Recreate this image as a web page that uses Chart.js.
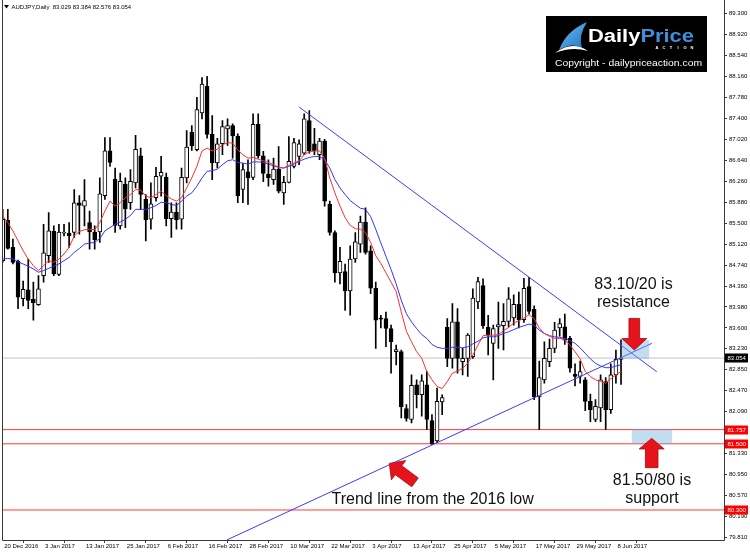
<!DOCTYPE html>
<html>
<head>
<meta charset="utf-8">
<script src="https://cdn.jsdelivr.net/npm/chart.js@4.4.0/dist/chart.umd.min.js"></script>
<style>
html,body{margin:0;padding:0;background:#fff;}
#c{display:block;}
</style>
</head>
<body>
<canvas id="c" width="750" height="552"></canvas>
<script>
// ---------- DATA ----------
const tickLabels = ['20 Dec 2016','3 Jan 2017','13 Jan 2017','25 Jan 2017','6 Feb 2017','16 Feb 2017','28 Feb 2017','10 Mar 2017','22 Mar 2017','3 Apr 2017','13 Apr 2017','25 Apr 2017','5 May 2017','17 May 2017','29 May 2017','8 Jun 2017'];
const barsPerLabel = 8;
const priceTicks = [79.810,80.190,80.570,80.950,81.330,81.710,82.090,82.470,82.850,83.230,83.600,83.980,84.360,84.740,85.120,85.500,85.880,86.260,86.640,87.020,87.400,87.780,88.160,88.540,88.920,89.300];

const opens = [84.82,85.55,85.06,84.81,84.13,84.29,84.12,84.02,84.55,84.91,85.35,84.57,85.32,85.32,85.33,85.87,85.81,85.51,85.34,85.34,
86.00,86.81,86.30,85.45,86.21,85.87,86.23,86.72,85.93,85.57,85.96,86.35,86.33,85.58,85.70,85.57,86.32,87.15,86.83,87.50,
87.98,87.11,86.59,86.94,87.21,87.27,87.08,86.11,86.43,86.33,87.29,86.72,86.39,86.29,86.48,86.05,86.24,86.53,86.71,86.77,
87.36,86.94,86.74,86.99,85.84,85.33,84.60,84.62,84.27,84.85,85.12,85.52,85.00,84.32,83.78,83.77,83.59,83.17,83.17,82.14,
81.94,82.57,82.39,82.57,81.92,81.55,82.26,83.61,83.05,83.71,82.99,83.05,83.08,84.07,84.37,83.61,83.32,83.62,83.64,83.72,
83.78,84.03,83.75,84.35,83.94,82.35,82.66,82.99,83.23,83.60,83.62,83.41,82.76,82.72,82.66,82.27,81.94,82.15,82.63,82.12,
82.75,83.029];
const highs = [85.75,85.75,85.21,84.83,84.45,84.85,84.43,84.55,85.48,85.69,85.45,85.48,85.48,85.51,86.11,86.00,86.29,85.72,85.45,86.32,
87.05,87.05,86.50,86.41,86.32,86.47,87.09,86.86,86.02,86.23,86.51,86.71,86.41,85.87,85.87,86.50,87.18,87.27,87.78,88.14,
88.16,87.45,87.04,87.36,87.39,87.30,87.12,86.58,86.65,87.48,87.48,86.80,86.65,86.68,86.89,86.35,87.07,87.04,87.01,87.48,
87.54,87.22,87.04,87.02,85.90,85.36,85.06,84.76,85.09,85.33,85.63,85.78,85.09,84.43,83.83,83.89,83.65,83.29,83.20,82.21,
82.75,82.66,82.75,82.81,82.03,82.51,82.39,83.77,84.04,83.95,83.23,83.50,84.31,84.52,84.49,83.83,83.65,84.07,84.04,84.33,
84.20,84.25,84.50,84.52,84.00,83.00,83.35,83.40,83.70,83.77,83.85,83.45,82.95,83.00,82.70,82.40,82.30,82.75,82.70,82.95,
83.20,83.384];
const lows = [84.79,85.03,84.76,83.95,84.00,83.95,83.74,84.01,84.43,84.79,84.55,84.55,85.27,85.06,85.24,85.30,85.45,85.03,85.03,85.15,
85.93,86.53,85.33,85.39,85.42,85.75,86.14,85.75,85.18,85.39,85.90,85.99,85.45,85.24,85.39,85.39,86.23,86.82,86.81,87.39,
87.04,86.29,86.50,86.74,86.91,86.68,85.87,85.87,85.84,86.29,86.68,86.25,86.17,86.20,86.05,85.84,86.23,86.50,86.56,86.74,
86.77,86.74,86.65,85.81,85.28,84.43,84.40,83.92,83.83,84.79,84.97,84.94,84.22,83.23,83.60,83.26,82.78,82.93,81.97,81.91,
81.88,82.15,82.00,81.76,81.49,81.52,82.03,82.90,82.87,82.78,82.75,82.72,83.05,83.95,83.59,83.11,82.66,83.23,83.20,83.62,
83.65,83.60,83.70,83.85,82.30,81.757,82.60,82.90,83.15,83.45,83.30,82.80,82.55,82.60,82.10,81.90,81.90,81.90,81.76,82.05,
82.60,82.576];
const closes = [85.57,85.04,84.79,84.16,84.30,84.10,84.06,84.31,84.96,85.36,84.58,85.34,85.34,85.27,85.87,85.82,85.91,85.34,85.20,86.03,
86.81,86.60,85.46,86.26,85.76,86.26,86.84,86.02,85.56,85.85,86.35,86.42,85.58,85.70,85.56,86.33,86.88,86.90,87.56,88.02,
87.11,86.59,86.94,87.25,87.27,87.08,86.00,86.47,86.32,87.29,86.72,86.40,86.32,86.48,86.08,86.24,86.62,86.96,86.94,87.39,
86.81,86.81,86.99,85.90,85.33,84.60,84.81,84.27,84.85,85.16,85.52,84.97,84.32,83.74,83.76,83.59,83.35,83.21,82.17,81.96,
82.56,82.39,82.64,81.94,81.50,82.27,82.34,83.05,83.71,83.05,83.05,83.47,84.14,84.44,83.64,83.47,83.59,83.66,83.72,84.13,
84.03,83.75,84.32,83.90,82.35,82.70,83.05,83.23,83.56,83.68,83.38,82.87,82.72,82.81,82.27,82.12,82.18,82.66,82.12,82.75,
83.03,83.054];

const maRed = [85.63,85.51,85.36,85.18,85.00,84.85,84.73,84.64,84.73,84.82,84.79,84.85,84.94,85.06,85.27,85.35,85.38,85.39,85.38,85.51,
85.72,85.90,85.81,85.87,85.96,86.02,86.11,86.10,85.99,85.96,86.02,86.08,86.00,85.94,85.90,85.96,86.14,86.32,86.53,86.81,
86.86,86.81,86.84,86.92,86.96,86.95,86.83,86.74,86.68,86.69,86.66,86.63,86.60,86.56,86.51,86.50,86.55,86.59,86.63,86.74,
86.79,86.81,86.81,86.68,86.32,86.05,85.81,85.60,85.46,85.40,85.39,85.33,85.15,84.91,84.77,84.60,84.43,84.26,83.89,83.54,
83.35,83.17,83.05,82.81,82.66,82.54,82.50,82.63,82.78,82.82,82.87,82.96,83.11,83.29,83.46,83.47,83.47,83.48,83.55,83.61,
83.69,83.73,83.78,83.84,83.77,83.60,83.50,83.45,83.41,83.41,83.39,83.29,83.17,83.04,82.81,82.72,82.66,82.63,82.60,82.68,
82.75,82.81];
const maBlue = [84.85,84.86,84.85,84.80,84.76,84.72,84.67,84.61,84.64,84.68,84.72,84.76,84.82,84.88,84.97,85.04,85.12,85.14,85.15,85.22,
85.36,85.42,85.48,85.52,85.57,85.64,85.75,85.75,85.75,85.78,85.82,85.88,85.87,85.84,85.82,85.90,85.99,86.05,86.17,86.32,
86.44,86.45,86.48,86.56,86.63,86.65,86.60,86.59,86.57,86.61,86.61,86.60,86.57,86.54,86.51,86.50,86.53,86.57,86.62,86.66,
86.69,86.71,86.71,86.65,86.50,86.29,86.14,86.02,85.91,85.84,85.77,85.75,85.62,85.39,85.14,84.90,84.66,84.40,84.10,83.86,
83.71,83.59,83.48,83.41,83.30,83.25,83.23,83.23,83.25,83.25,83.24,83.26,83.31,83.36,83.42,83.44,83.44,83.46,83.50,83.53,
83.57,83.61,83.64,83.67,83.65,83.56,83.50,83.46,83.44,83.43,83.41,83.37,83.32,83.24,83.14,83.04,82.96,82.91,82.88,82.88,
82.91,82.93];

const redLevels = [81.757, 81.500, 80.300];
const lastPrice = 83.054;
const trendHighX = [58.0, 128.0];
const trendHighY = [87.605, 82.806];
const trendLowX = [43.84, 127.0];
const trendLowY = [79.756, 83.32];
const resistZone = {x:[121.1,126.5], y:[83.04,83.38]};
const supportZone = {x:[123.1,131.0], y:[81.50,81.757]};

// ---------- SCALE RANGE ----------
const X_MIN = -0.137, X_MAX = 141.15;
const Y_MIN = 79.756, Y_MAX = 89.444;

const idx = opens.map((_, i) => i);
const wickData = idx.map(i => ({x: i, y: [lows[i], highs[i]]}));
const bodyData = idx.map(i => ({x: i, y: [Math.min(opens[i], closes[i]), Math.max(opens[i], closes[i])]}));
const bodyFill = idx.map(i => closes[i] >= opens[i] ? '#ffffff' : '#000000');

const hline = (v) => [{x: X_MIN, y: v}, {x: X_MAX, y: v}];
const lineDs = (data, color, order, extra) => Object.assign({
  type: 'line', data, borderColor: color, borderWidth: 1, pointRadius: 0,
  tension: 0, fill: false, order
}, extra || {});

const FONT = 'Liberation Sans';

function arrow(ctx, tx, ty, dx, dy, len, headLen, headW, shaftW) {
  const m = Math.hypot(dx, dy); const ux = dx / m, uy = dy / m;
  const nx = -uy, ny = ux;
  const bx = tx - ux * headLen, by = ty - uy * headLen;
  const ex = tx - ux * len, ey = ty - uy * len;
  ctx.beginPath();
  ctx.moveTo(tx, ty);
  ctx.lineTo(bx + nx * headW / 2, by + ny * headW / 2);
  ctx.lineTo(bx + nx * shaftW / 2, by + ny * shaftW / 2);
  ctx.lineTo(ex + nx * shaftW / 2, ey + ny * shaftW / 2);
  ctx.lineTo(ex - nx * shaftW / 2, ey - ny * shaftW / 2);
  ctx.lineTo(bx - nx * shaftW / 2, by - ny * shaftW / 2);
  ctx.lineTo(bx - nx * headW / 2, by - ny * headW / 2);
  ctx.closePath();
  ctx.fillStyle = '#e5141c';
  ctx.fill();
  ctx.strokeStyle = '#a30d12';
  ctx.lineWidth = 0.8;
  ctx.stroke();
}

const decor = {
  id: 'decor',
  afterDraw(chart) {
    const ctx = chart.ctx, xs = chart.scales.x, ys = chart.scales.y, a = chart.chartArea;
    const px = v => xs.getPixelForValue(v), py = v => ys.getPixelForValue(v);
    ctx.save();
    // zones
    ctx.fillStyle = 'rgba(120,178,222,0.45)';
    ctx.fillRect(px(resistZone.x[0]), py(resistZone.y[1]), px(resistZone.x[1]) - px(resistZone.x[0]), py(resistZone.y[0]) - py(resistZone.y[1]));
    ctx.fillRect(px(supportZone.x[0]), py(supportZone.y[1]), px(supportZone.x[1]) - px(supportZone.x[0]), py(supportZone.y[0]) - py(supportZone.y[1]));

    // arrows
    arrow(ctx, px(123.6), py(83.20), 0, 1, 31.6, 11.5, 25, 10.7);
    arrow(ctx, px(127.0), py(81.60), 0, -1, 29.4, 10.7, 25, 12.6);
    arrow(ctx, px(75.65), py(81.145), -25.7, -19, 32, 11.5, 24, 11);

    // annotation texts
    ctx.fillStyle = '#111';
    ctx.font = '16px ' + FONT;
    ctx.textBaseline = 'middle';
    ctx.textAlign = 'center';
    ctx.fillText('83.10/20 is', 633.5, 285);
    ctx.fillText('resistance', 633.5, 303);
    ctx.fillText('81.50/80 is', 652, 481);
    ctx.fillText('support', 652, 499);
    ctx.textAlign = 'left';
    ctx.fillText('Trend line from the 2016 low', 331.5, 500);

    // frame
    ctx.strokeStyle = '#3a3a3a';
    ctx.lineWidth = 1;
    ctx.beginPath();
    ctx.moveTo(Math.round(a.left) + 0.5, 0);
    ctx.lineTo(Math.round(a.left) + 0.5, Math.round(a.bottom) + 0.5);
    ctx.lineTo(Math.round(a.right) + 0.5, Math.round(a.bottom) + 0.5);
    ctx.lineTo(Math.round(a.right) + 0.5, 0);
    ctx.stroke();

    // price boxes on the axis
    const box = (v, bg) => {
      const y = py(v);
      ctx.fillStyle = bg;
      ctx.fillRect(a.right + 1, Math.round(y) - 4.5, 23, 9);
      ctx.fillStyle = '#ffffff';
      ctx.font = '6px ' + FONT;
      ctx.textAlign = 'left';
      ctx.textBaseline = 'middle';
      ctx.fillText(v.toFixed(3), a.right + 3.5, Math.round(y));
    };
    box(lastPrice, '#000000');
    redLevels.forEach(v => box(v, '#ff0000'));

    // title
    ctx.fillStyle = '#000';
    ctx.beginPath();
    ctx.moveTo(4, 5); ctx.lineTo(9, 5); ctx.lineTo(6.5, 8.5); ctx.closePath(); ctx.fill();
    ctx.font = '6px ' + FONT;
    ctx.textAlign = 'left';
    ctx.textBaseline = 'middle';
    ctx.fillText('AUDJPY,Daily  83.029 83.384 82.576 83.054', 11.5, 7);

    // logo
    ctx.fillStyle = '#000';
    ctx.fillRect(546, 16, 161, 56);
    // icon
    const g = ctx.createLinearGradient(560, 22, 586, 50);
    g.addColorStop(0, '#6cc3f5'); g.addColorStop(1, '#1e6fc4');
    ctx.fillStyle = g;
    ctx.beginPath();
    ctx.moveTo(559, 50);
    ctx.quadraticCurveTo(566, 31, 587, 22);
    ctx.quadraticCurveTo(578, 36, 582, 48);
    ctx.quadraticCurveTo(572, 42, 559, 50);
    ctx.closePath(); ctx.fill();
    ctx.fillStyle = '#ffffff';
    ctx.beginPath();
    ctx.moveTo(555, 53);
    ctx.quadraticCurveTo(572, 40, 588, 51);
    ctx.quadraticCurveTo(572, 46, 555, 53);
    ctx.closePath(); ctx.fill();
    // DailyPrice
    ctx.textBaseline = 'alphabetic';
    ctx.font = 'bold 18px ' + FONT;
    const w1 = ctx.measureText('Daily').width, w2 = ctx.measureText('Price').width;
    const sx = 106 / (w1 + w2);
    ctx.save();
    ctx.translate(588, 42);
    ctx.scale(sx, 1);
    ctx.fillStyle = '#ffffff';
    ctx.fillText('Daily', 0, 0);
    ctx.fillStyle = '#3d8fdc';
    ctx.fillText('Price', w1, 0);
    ctx.restore();
    ctx.fillStyle = '#ffffff';
    ctx.font = 'bold 4px ' + FONT;
    ctx.textAlign = 'center';
    ['A','C','T','I','O','N'].forEach((ch, i) => ctx.fillText(ch, 657 + i * 7, 48.5));
    ctx.font = '9.5px ' + FONT;
    const cw = ctx.measureText('Copyright - dailypriceaction.com').width;
    ctx.save();
    ctx.translate(555, 66);
    ctx.scale(147 / cw, 1);
    ctx.textAlign = 'left';
    ctx.fillText('Copyright - dailypriceaction.com', 0, 0);
    ctx.restore();
    ctx.restore();
  }
};

new Chart(document.getElementById('c'), {
  type: 'bar',
  data: {
    datasets: [
      lineDs(hline(lastPrice), '#c4c4c4', 6),
      lineDs(hline(redLevels[0]), '#ff3a3a', 6),
      lineDs(hline(redLevels[1]), '#ff3a3a', 6),
      lineDs(hline(redLevels[2]), '#ff3a3a', 6),
      {type: 'bar', data: wickData, backgroundColor: '#000', borderWidth: 0, barThickness: 1, grouped: false, order: 5},
      {type: 'bar', data: bodyData, backgroundColor: bodyFill, borderColor: '#000', borderWidth: 1, borderSkipped: false, barThickness: 4, grouped: false, minBarLength: 1, order: 4},
      lineDs(idx.map(i => ({x: i, y: maBlue[i]})), '#3434ff', 3),
      lineDs(idx.map(i => ({x: i, y: maRed[i]})), '#ff2e2e', 2),
      lineDs(trendHighX.map((x, i) => ({x, y: trendHighY[i]})), '#3c3cff', 1),
      lineDs(trendLowX.map((x, i) => ({x, y: trendLowY[i]})), '#3c3cff', 1)
    ]
  },
  options: {
    responsive: false,
    devicePixelRatio: 1,
    animation: false,
    events: [],
    layout: {padding: {left: 2, top: 1, right: 0, bottom: 0}},
    plugins: {legend: {display: false}, tooltip: {enabled: false}},
    scales: {
      x: {
        type: 'linear', position: 'bottom', min: X_MIN, max: X_MAX, offset: false,
        grid: {drawOnChartArea: false, drawTicks: true, tickLength: 3, color: '#3a3a3a'},
        border: {display: false},
        afterBuildTicks: s => { s.ticks = tickLabels.map((_, i) => ({value: i * barsPerLabel})); },
        afterFit: s => { s.height = 12; },
        ticks: {
          autoSkip: false, maxRotation: 0, minRotation: 0, align: 'start', labelOffset: 1.5, padding: 0,
          color: '#000', font: {family: FONT, size: 6},
          callback: v => tickLabels[Math.round(v / barsPerLabel)] || ''
        }
      },
      y: {
        type: 'linear', position: 'right', min: Y_MIN, max: Y_MAX,
        grid: {drawOnChartArea: false, drawTicks: true, tickLength: 3, color: '#3a3a3a'},
        border: {display: false},
        afterBuildTicks: s => { s.ticks = priceTicks.map(v => ({value: v})); },
        afterFit: s => { s.width = 26; },
        ticks: {
          padding: 2, color: '#000', font: {family: FONT, size: 6},
          callback: v => Number(v).toFixed(3)
        }
      }
    }
  },
  plugins: [decor]
});
</script>
</body>
</html>
